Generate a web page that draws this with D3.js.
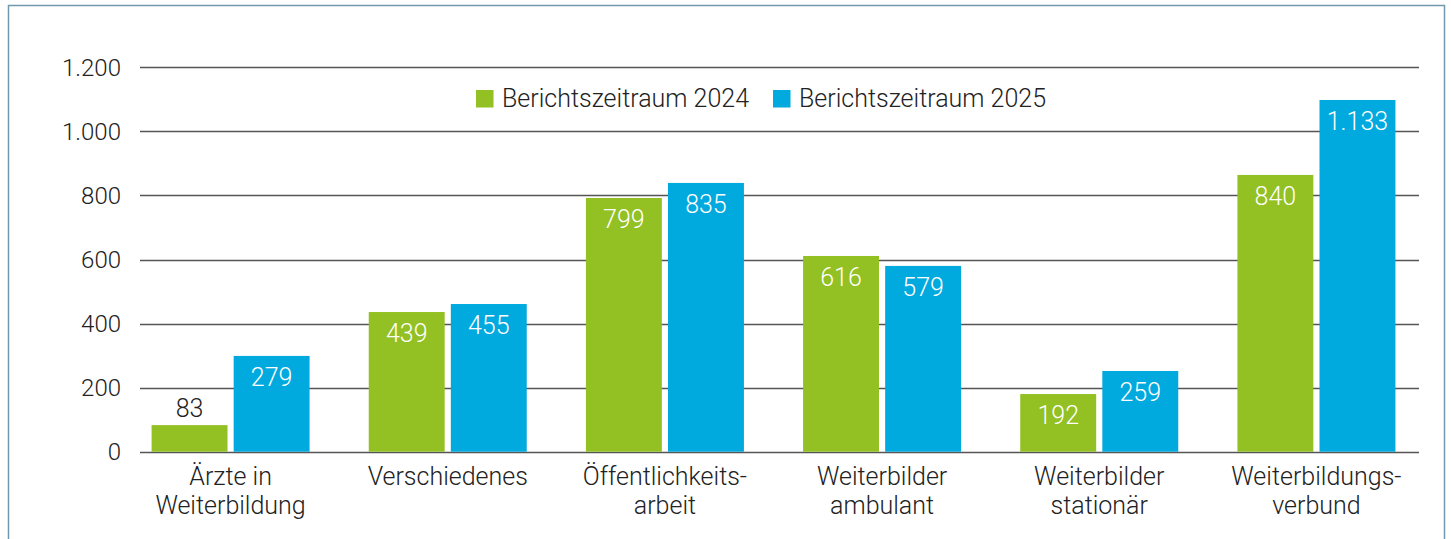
<!DOCTYPE html>
<html lang="de">
<head>
    <meta charset="UTF-8">
    <title>Berichtszeitraum</title>
    <script src="https://d3js.org/d3.v7.min.js"></script>
    <style>
        * { margin: 0; padding: 0; box-sizing: border-box; }
        body { background: #fff; font-family: Roboto, Arial, sans-serif; }
        svg text { font-family: Roboto, Arial, sans-serif; font-weight: 300; }
    </style>
</head>
<body>
    <div id="chart"></div>
    <script>
        // Kategorien (zweizeilig)
        const categories = [
            ["Ärzte in", "Weiterbildung"],
            ["Verschiedenes"],
            ["Öffentlichkeits-", "arbeit"],
            ["Weiterbilder", "ambulant"],
            ["Weiterbilder", "stationär"],
            ["Weiterbildungs-", "verbund"]
        ];
        const series = ["Berichtszeitraum 2024", "Berichtszeitraum 2025"];
        const colors = ["#93c022", "#00a9de"];

        // Beschriftete Werte
        const labels2024 = [83, 439, 799, 616, 192, 840];
        const labels2025 = [279, 455, 835, 579, 259, 1133];
        // Balkenhöhen, wie sie im Bild gezeichnet sind
        const bars2024 = [83, 436, 792, 611, 180, 864];
        const bars2025 = [299, 461, 839, 580, 252, 1098];

        const yTicks = [0, 200, 400, 600, 800, 1000, 1200];

        const W = 1451, H = 539;
        const svg = d3.select("#chart").append("svg")
            .attr("width", W).attr("height", H);

        // Rahmen
        svg.append("rect")
            .attr("x", 8.5).attr("y", 5.5)
            .attr("width", 1436).attr("height", 560)
            .attr("fill", "none")
            .attr("stroke", "#7099ad")
            .attr("stroke-width", 1.5);

        const y = d3.scaleLinear().domain([0, 1200]).range([451.7, 67.3]);
        const x0 = d3.scaleBand().domain(d3.range(categories.length))
            .range([122, 1425]).paddingInner(0).paddingOuter(0);
        const x1 = d3.scaleBand().domain(d3.range(series.length))
            .range([0, 158]).paddingInner(0.075);
        const fmt = d3.formatLocale({ decimal: ",", thousands: ".", grouping: [3], currency: ["", "€"] }).format(",d");

        // Gitterlinien
        svg.append("g")
            .selectAll("line")
            .data(yTicks)
            .join("line")
            .attr("x1", 140).attr("x2", 1419)
            .attr("y1", d => Math.round(y(d)) + 0.5)
            .attr("y2", d => Math.round(y(d)) + 0.5)
            .attr("stroke", "#555")
            .attr("stroke-width", 1.3);

        // y-Achse
        svg.append("g")
            .selectAll("text")
            .data(yTicks)
            .join("text")
            .attr("x", 121)
            .attr("y", d => y(d) + 8.5)
            .attr("text-anchor", "end")
            .style("font-size", "24px")
            .attr("fill", "#222")
            .text(d => fmt(d));

        const data = categories.map((c, i) => ({
            i,
            vals: [
                { s: 0, bar: bars2024[i], label: labels2024[i] },
                { s: 1, bar: bars2025[i], label: labels2025[i] }
            ]
        }));

        const groups = svg.append("g")
            .selectAll("g")
            .data(data)
            .join("g")
            .attr("transform", d => `translate(${x0(d.i) + x0.bandwidth() / 2 - 79},0)`);

        groups.selectAll("rect")
            .data(d => d.vals)
            .join("rect")
            .attr("x", d => x1(d.s))
            .attr("y", d => y(d.bar))
            .attr("width", x1.bandwidth())
            .attr("height", d => y(0) - y(d.bar))
            .attr("fill", d => colors[d.s]);

        groups.selectAll("text.val")
            .data(d => d.vals)
            .join("text")
            .attr("class", "val")
            .attr("x", d => x1(d.s) + x1.bandwidth() / 2)
            .attr("y", d => (y(0) - y(d.bar) > 45) ? y(d.bar) + 30 : y(d.bar) - 8)
            .attr("text-anchor", "middle")
            .style("font-size", "25px")
            .attr("fill", d => (y(0) - y(d.bar) > 45) ? "#fff" : "#222")
            .text(d => fmt(d.label));

        // Kategorienbeschriftung
        svg.append("g")
            .selectAll("text")
            .data(data)
            .join("text")
            .attr("x", d => x0(d.i) + x0.bandwidth() / 2)
            .attr("y", 485)
            .attr("text-anchor", "middle")
            .style("font-size", "25px")
            .attr("fill", "#222")
            .selectAll("tspan")
            .data(d => categories[d.i])
            .join("tspan")
            .attr("x", function () { return d3.select(this.parentNode).attr("x"); })
            .attr("dy", (d, j) => j === 0 ? 0 : 29)
            .text(d => d);

        // Legende
        const legendX = [476, 773];
        const legend = svg.append("g")
            .selectAll("g")
            .data(series)
            .join("g")
            .attr("transform", (d, i) => `translate(${legendX[i]},90)`);
        legend.append("rect")
            .attr("width", 17.5).attr("height", 17.5)
            .attr("fill", (d, i) => colors[i]);
        legend.append("text")
            .attr("x", 26).attr("y", 16.7)
            .style("font-size", "25px")
            .attr("fill", "#222")
            .text(d => d);
    </script>
</body>
</html>
